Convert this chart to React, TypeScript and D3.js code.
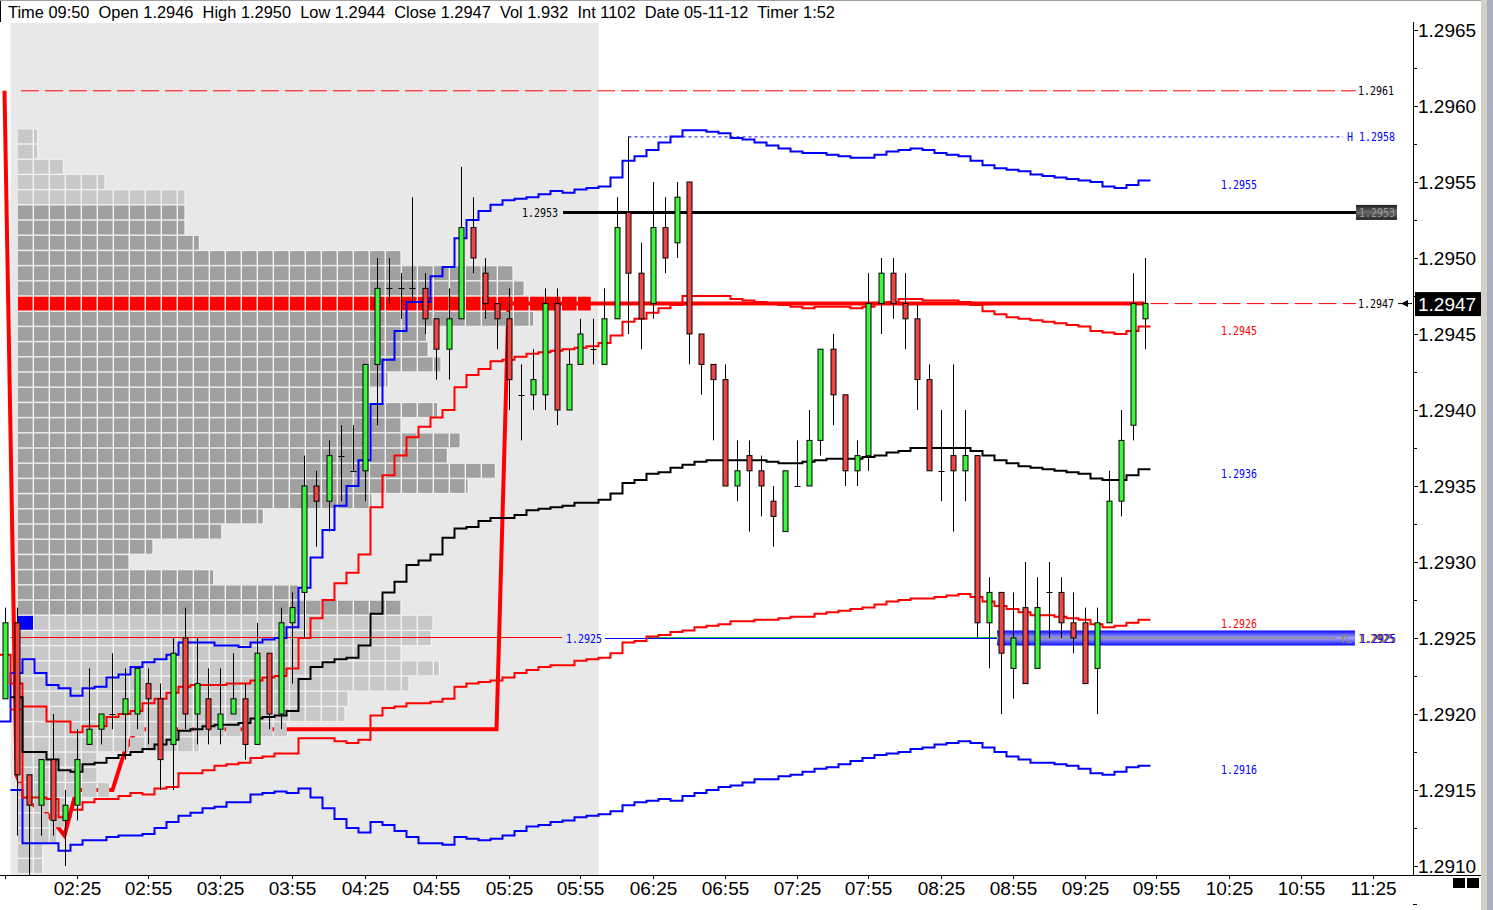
import React from 'react';
import * as d3 from 'd3';

const W = 1493;
const H = 910;

// 5-minute bars from 01:55 to 09:50
const firstBar = '01:55';
const barMinutes = 5;

const opens = [
  1.2921, 1.2926, 1.2916, 1.2914, 1.2917, 1.2913, 1.2914, 1.2918, 1.2919, 1.2920,
  1.2920, 1.2920, 1.2922, 1.2921, 1.2918, 1.2925, 1.2920, 1.2921, 1.2919, 1.2920,
  1.2921, 1.2918, 1.2924, 1.2920, 1.2926, 1.2928, 1.2935, 1.2934, 1.2937, 1.2936,
  1.2936, 1.2943, 1.2948, 1.2948, 1.2948, 1.2948, 1.2946, 1.2944, 1.2946, 1.2952,
  1.2949, 1.2947, 1.2946, 1.2941, 1.2941, 1.2941, 1.2947, 1.2940, 1.2943, 1.2944,
  1.2943, 1.2946, 1.2953, 1.2949, 1.2947, 1.2952, 1.2951, 1.2955, 1.2945, 1.2943,
  1.2942, 1.2935, 1.2937, 1.2936, 1.2934, 1.2932, 1.2935, 1.2935, 1.2938, 1.2944,
  1.2941, 1.2936, 1.2937, 1.2947, 1.2949, 1.2947, 1.2946, 1.2942, 1.2936, 1.2937,
  1.2936, 1.2937, 1.2926, 1.2928, 1.2923, 1.2927, 1.2923, 1.2928, 1.2928, 1.2926,
  1.2926, 1.2923, 1.2926, 1.2934, 1.2939, 1.2946,
];
const highs = [
  1.2927, 1.2927, 1.2916, 1.2917, 1.2920, 1.2915, 1.2919, 1.2923, 1.2920, 1.2924,
  1.2923, 1.2923, 1.2923, 1.2922, 1.2925, 1.2927, 1.2925, 1.2923, 1.2923, 1.2924,
  1.2922, 1.2926, 1.2924, 1.2927, 1.2928, 1.2937, 1.2936, 1.2938, 1.2939, 1.2939,
  1.2943, 1.2950, 1.2950, 1.2949, 1.2954, 1.2949, 1.2946, 1.2948, 1.2956, 1.2954,
  1.2950, 1.2947, 1.2948, 1.2943, 1.2944, 1.2948, 1.2948, 1.2944, 1.2946, 1.2946,
  1.2948, 1.2954, 1.2958, 1.2951, 1.2955, 1.2954, 1.2955, 1.2955, 1.2945, 1.2943,
  1.2943, 1.2938, 1.2938, 1.2937, 1.2935, 1.2936, 1.2938, 1.2940, 1.2944, 1.2945,
  1.2941, 1.2938, 1.2949, 1.2950, 1.2950, 1.2949, 1.2947, 1.2943, 1.2940, 1.2943,
  1.2940, 1.2937, 1.2929, 1.2928, 1.2928, 1.2930, 1.2929, 1.2930, 1.2929, 1.2928,
  1.2927, 1.2927, 1.2936, 1.2940, 1.2949, 1.2950,
];
const lows = [
  1.2921, 1.2912, 1.2909, 1.2912, 1.2912, 1.2910, 1.2913, 1.2918, 1.2918, 1.2919,
  1.2917, 1.2919, 1.2918, 1.2915, 1.2915, 1.2919, 1.2918, 1.2918, 1.2918, 1.2920,
  1.2917, 1.2918, 1.2919, 1.2919, 1.2922, 1.2925, 1.2931, 1.2932, 1.2934, 1.2936,
  1.2934, 1.2939, 1.2947, 1.2946, 1.2947, 1.2945, 1.2942, 1.2942, 1.2946, 1.2949,
  1.2946, 1.2944, 1.2940, 1.2938, 1.2940, 1.2940, 1.2939, 1.2940, 1.2943, 1.2943,
  1.2943, 1.2946, 1.2945, 1.2944, 1.2946, 1.2949, 1.2950, 1.2943, 1.2941, 1.2938,
  1.2935, 1.2934, 1.2932, 1.2933, 1.2931, 1.2932, 1.2935, 1.2935, 1.2937, 1.2939,
  1.2935, 1.2935, 1.2936, 1.2945, 1.2946, 1.2944, 1.2940, 1.2936, 1.2934, 1.2932,
  1.2934, 1.2925, 1.2923, 1.2920, 1.2921, 1.2922, 1.2923, 1.2925, 1.2925, 1.2924,
  1.2922, 1.2920, 1.2926, 1.2933, 1.2938, 1.2944,
];
const closes = [
  1.2926, 1.2916, 1.2914, 1.2917, 1.2913, 1.2914, 1.2917, 1.2919, 1.2920, 1.2920,
  1.2921, 1.2923, 1.2921, 1.2917, 1.2924, 1.2920, 1.2922, 1.2919, 1.2920, 1.2921,
  1.2918, 1.2924, 1.2920, 1.2926, 1.2927, 1.2935, 1.2934, 1.2937, 1.2937, 1.2936,
  1.2943, 1.2948, 1.2948, 1.2948, 1.2948, 1.2946, 1.2944, 1.2946, 1.2952, 1.2950,
  1.2947, 1.2946, 1.2942, 1.2941, 1.2942, 1.2947, 1.2940, 1.2943, 1.2945, 1.2944,
  1.2946, 1.2952, 1.2949, 1.2946, 1.2952, 1.2950, 1.2954, 1.2945, 1.2943, 1.2942,
  1.2935, 1.2936, 1.2936, 1.2935, 1.2933, 1.2936, 1.2935, 1.2938, 1.2944, 1.2941,
  1.2936, 1.2937, 1.2947, 1.2949, 1.2947, 1.2946, 1.2942, 1.2936, 1.2936, 1.2936,
  1.2937, 1.2926, 1.2928, 1.2924, 1.2925, 1.2922, 1.2927, 1.2928, 1.2926, 1.2925,
  1.2922, 1.2926, 1.2934, 1.2938, 1.2947, 1.2947,
];

// VWAP and its deviation bands, one value per bar (bar 0 = prior session)
const upperBlue = [
  1.29195, 1.29227, 1.29236, 1.29227, 1.29219, 1.29217, 1.29212, 1.29217, 1.29218, 1.29224,
  1.29226, 1.29231, 1.29234, 1.29236, 1.29239, 1.29247, 1.29247, 1.29247, 1.29245, 1.29245,
  1.29244, 1.29247, 1.29249, 1.29250, 1.29257, 1.29283, 1.29303, 1.29321, 1.29337, 1.29350,
  1.29367, 1.29404, 1.29433, 1.29452, 1.29471, 1.29471, 1.29488, 1.29494, 1.29513, 1.29525,
  1.29531, 1.29535, 1.29538, 1.29539, 1.29540, 1.29542, 1.29544, 1.29543, 1.29545, 1.29546,
  1.29547, 1.29553, 1.29564, 1.29567, 1.29571, 1.29576, 1.29580, 1.29584, 1.29584, 1.29583,
  1.29582, 1.29579, 1.29578, 1.29576, 1.29574, 1.29572, 1.29570, 1.29569, 1.29569, 1.29568,
  1.29567, 1.29566, 1.29566, 1.29568, 1.29570, 1.29571, 1.29572, 1.29571, 1.29569, 1.29568,
  1.29567, 1.29564, 1.29561, 1.29559, 1.29558, 1.29557, 1.29555, 1.29554, 1.29553, 1.29552,
  1.29551, 1.29550, 1.29547, 1.29546, 1.29548, 1.29551,
];
const upperRed = [
  1.29239, 1.29220, 1.29205, 1.29205, 1.29195, 1.29195, 1.29188, 1.29192, 1.29192, 1.29198,
  1.29200, 1.29202, 1.29207, 1.29210, 1.29214, 1.29218, 1.29219, 1.29219, 1.29219, 1.29220,
  1.29220, 1.29222, 1.29224, 1.29225, 1.29230, 1.29250, 1.29263, 1.29275, 1.29286, 1.29293,
  1.29305, 1.29336, 1.29357, 1.29370, 1.29382, 1.29389, 1.29395, 1.29400, 1.29415, 1.29423,
  1.29427, 1.29432, 1.29433, 1.29435, 1.29437, 1.29438, 1.29439, 1.29440, 1.29441, 1.29442,
  1.29444, 1.29449, 1.29458, 1.29460, 1.29464, 1.29467, 1.29469, 1.29475, 1.29475, 1.29475,
  1.29475, 1.29473, 1.29472, 1.29471, 1.29470, 1.29469, 1.29468, 1.29467, 1.29468, 1.29468,
  1.29468, 1.29467, 1.29468, 1.29470, 1.29471, 1.29473, 1.29473, 1.29472, 1.29472, 1.29472,
  1.29471, 1.29469, 1.29465, 1.29463, 1.29461, 1.29460, 1.29459, 1.29458, 1.29457, 1.29456,
  1.29455, 1.29452, 1.29451, 1.29450, 1.29452, 1.29455,
];
const vwap = [
  null, 1.29211, 1.29175, 1.29175, 1.29170, 1.29163, 1.29162, 1.29167, 1.29168, 1.29171,
  1.29173, 1.29175, 1.29177, 1.29180, 1.29183, 1.29189, 1.29190, 1.29192, 1.29193, 1.29193,
  1.29194, 1.29197, 1.29198, 1.29199, 1.29202, 1.29223, 1.29231, 1.29234, 1.29236, 1.29237,
  1.29245, 1.29266, 1.29280, 1.29287, 1.29298, 1.29301, 1.29305, 1.29316, 1.29322, 1.29323,
  1.29327, 1.29329, 1.29329, 1.29331, 1.29334, 1.29335, 1.29336, 1.29337, 1.29339, 1.29339,
  1.29341, 1.29345, 1.29352, 1.29354, 1.29358, 1.29359, 1.29362, 1.29364, 1.29366, 1.29367,
  1.29367, 1.29367, 1.29367, 1.29367, 1.29366, 1.29365, 1.29365, 1.29366, 1.29367, 1.29368,
  1.29368, 1.29368, 1.29369, 1.29370, 1.29372, 1.29373, 1.29375, 1.29375, 1.29375, 1.29375,
  1.29375, 1.29373, 1.29370, 1.29367, 1.29365, 1.29363, 1.29362, 1.29361, 1.29360, 1.29359,
  1.29358, 1.29355, 1.29354, 1.29354, 1.29357, 1.29361,
];
const lowerRed = [
  null, 1.29203, 1.29145, 1.29145, 1.29144, 1.29132, 1.29137, 1.29142, 1.29144, 1.29144,
  1.29146, 1.29148, 1.29147, 1.29151, 1.29152, 1.29161, 1.29161, 1.29163, 1.29166, 1.29167,
  1.29168, 1.29171, 1.29172, 1.29174, 1.29174, 1.29184, 1.29184, 1.29184, 1.29182, 1.29181,
  1.29183, 1.29199, 1.29204, 1.29205, 1.29207, 1.29207, 1.29208, 1.29210, 1.29218, 1.29220,
  1.29221, 1.29222, 1.29224, 1.29227, 1.29229, 1.29231, 1.29232, 1.29232, 1.29235, 1.29236,
  1.29237, 1.29240, 1.29247, 1.29248, 1.29251, 1.29252, 1.29254, 1.29255, 1.29257, 1.29258,
  1.29259, 1.29261, 1.29261, 1.29262, 1.29262, 1.29263, 1.29264, 1.29264, 1.29266, 1.29267,
  1.29268, 1.29269, 1.29270, 1.29272, 1.29274, 1.29275, 1.29276, 1.29276, 1.29277, 1.29278,
  1.29279, 1.29277, 1.29274, 1.29271, 1.29269, 1.29267, 1.29265, 1.29265, 1.29264, 1.29263,
  1.29262, 1.29259, 1.29257, 1.29258, 1.29260, 1.29262,
];
const lowerBlue = [
  null, 1.29150, 1.29115, 1.29115, 1.29115, 1.29110, 1.29114, 1.29117, 1.29117, 1.29119,
  1.29120, 1.29120, 1.29121, 1.29125, 1.29129, 1.29133, 1.29135, 1.29138, 1.29139, 1.29142,
  1.29142, 1.29147, 1.29148, 1.29149, 1.29148, 1.29151, 1.29145, 1.29138, 1.29131, 1.29125,
  1.29122, 1.29129, 1.29127, 1.29123, 1.29119, 1.29115, 1.29115, 1.29114, 1.29119, 1.29118,
  1.29117, 1.29118, 1.29120, 1.29123, 1.29126, 1.29127, 1.29129, 1.29130, 1.29132, 1.29133,
  1.29134, 1.29136, 1.29140, 1.29142, 1.29143, 1.29144, 1.29143, 1.29146, 1.29148, 1.29150,
  1.29152, 1.29153, 1.29155, 1.29157, 1.29157, 1.29159, 1.29160, 1.29162, 1.29164, 1.29165,
  1.29167, 1.29169, 1.29171, 1.29173, 1.29174, 1.29175, 1.29177, 1.29178, 1.29180, 1.29181,
  1.29182, 1.29181, 1.29178, 1.29175, 1.29172, 1.29170, 1.29168, 1.29168, 1.29167, 1.29166,
  1.29164, 1.29161, 1.29160, 1.29162, 1.29165, 1.29166,
];
// developing point of control
const devPoc = [
  1.2961, 1.2916, 1.2914, 1.2914, 1.2913, 1.2912, 1.2915, 1.2915, 1.2915, 1.2915,
  1.29175, 1.2919, 1.2919, 1.2919, 1.2919, 1.2919, 1.2919, 1.2919, 1.2919, 1.2919,
  1.2919, 1.2919, 1.2919, 1.2919, 1.2919, 1.2919, 1.2919, 1.2919, 1.2919, 1.2919,
  1.2919, 1.2919, 1.2919, 1.2919, 1.2919, 1.2919, 1.2919, 1.2919, 1.2919, 1.2919,
  1.2919, 1.2919, 1.2947, 1.2947, 1.2947, 1.2947, 1.2947, 1.2947, 1.2947, 1.2947,
  1.2947, 1.2947, 1.2947, 1.2947, 1.2947, 1.2947, 1.2947, 1.2947, 1.2947, 1.2947,
  1.2947, 1.2947, 1.2947, 1.2947, 1.2947, 1.2947, 1.2947, 1.2947, 1.2947, 1.2947,
  1.2947, 1.2947, 1.2947, 1.2947, 1.2947, 1.2947, 1.2947, 1.2947, 1.2947, 1.2947,
  1.2947, 1.2947, 1.2947, 1.2947, 1.2947, 1.2947, 1.2947, 1.2947, 1.2947, 1.2947,
  1.2947, 1.2947, 1.2947, 1.2947, 1.2947, 1.2947,
];

// volume profile of the session
const profilePrices = [
  1.2958, 1.2957, 1.2956, 1.2955, 1.2954, 1.2953, 1.2952, 1.2951, 1.2950, 1.2949,
  1.2948, 1.2947, 1.2946, 1.2945, 1.2944, 1.2943, 1.2942, 1.2941, 1.2940, 1.2939,
  1.2938, 1.2937, 1.2936, 1.2935, 1.2934, 1.2933, 1.2932, 1.2931, 1.2930, 1.2929,
  1.2928, 1.2927, 1.2926, 1.2925, 1.2924, 1.2923, 1.2922, 1.2921, 1.2920, 1.2919,
  1.2918, 1.2917, 1.2916, 1.2915, 1.2914, 1.2913, 1.2912, 1.2911, 1.2910,
];
const profileVolume = [
  12, 12, 28, 54, 104, 104, 104, 113, 239, 309,
  316, 358, 322, 255, 256, 264, 231, 216, 262, 239,
  276, 268, 298, 281, 221, 153, 127, 84, 69, 122,
  175, 239, 259, 258, 239, 263, 244, 206, 204, 168,
  113, 49, 49, 57, 30, 30, 24, 15, 15,
];
const pocPrice = 1.2947;
const valueAreaHigh = 1.2953;
const valueAreaLow = 1.2927;

const prevHigh = 1.2961;
const dayHigh = 1.2958;
const levelLine = 1.2953;
const yesterdayLow = 1.2925;
const lastPrice = 1.2947;

const priceTicks = [1.2910, 1.2915, 1.2920, 1.2925, 1.2930, 1.2935, 1.2940, 1.2945, 1.2950, 1.2955, 1.2960, 1.2965];
const timeTicks = ['01:55', '02:25', '02:55', '03:25', '03:55', '04:25', '04:55', '05:25', '05:55', '06:25',
  '06:55', '07:25', '07:55', '08:25', '08:55', '09:25', '09:55', '10:25', '10:55', '11:25'];

const headerText = 'Time 09:50  Open 1.2946  High 1.2950  Low 1.2944  Close 1.2947  Vol 1.932  Int 1102  Date 05-11-12  Timer 1:52';

const parseT = d3.timeParse('%H:%M');
const barTimes = opens.map((_, i) => d3.timeMinute.offset(parseT(firstBar) as Date, barMinutes * i));

const x = d3.scaleTime()
  .domain([parseT('01:55') as Date, parseT('11:25') as Date])
  .range([4.5, 1372.5]);
const y = d3.scaleLinear().domain([1.2910, 1.2965]).range([866, 30]);
const xVol = d3.scaleLinear().domain([0, 10]).range([0, 16]);

const half = (x(barTimes[1]) - x(barTimes[0])) / 2;
const rowH = y(1.2925) - y(1.2926);

const PLOT_TOP = 22;
const PLOT_BOTTOM = 875;
const AXIS_X = 1413;
const PROFILE_X = 18;
const LABEL_FONT = "'DejaVu Sans Mono', monospace";
const AXIS_FONT = "'Liberation Sans', Arial, sans-serif";

// indicator labels show the value cut to 4 decimals
const fmt = (v: number) => (Math.floor(v * 10000 + 1e-6) / 10000).toFixed(4);

type Pt = [number, number | null];

const stepPath = (vals: (number | null)[]) => {
  const pts: Pt[] = vals.map((v, i) => [x(barTimes[i]) - half, v]);
  pts.push([x(barTimes[vals.length - 1]) + half, vals[vals.length - 1]]);
  return d3.line<Pt>()
    .defined(d => d[1] != null)
    .x(d => d[0])
    .y(d => y(d[1] as number))
    .curve(d3.curveStepAfter)(pts) || '';
};

const pocPath = d3.line<number>()
  .x((_, i) => x(barTimes[i]))
  .y(d => y(d))(devPoc) || '';

const SmallLabel: React.FC<{ x: number; y: number; text: string; color: string }> = ({ x: lx, y: ly, text, color }) => (
  <text x={lx} y={ly} fill={color} fontFamily={LABEL_FONT} fontSize={12}
    textLength={text.length * 6} lengthAdjust="spacingAndGlyphs">{text}</text>
);

const App: React.FC = () => {
  const sessionX0 = x(barTimes[1]) - half;
  const sessionX1 = x(barTimes[49]) + half;
  const last = barTimes.length - 1;
  const lastX = x(barTimes[last]) + half;

  const backs: React.ReactNode[] = [];
  const cells: React.ReactNode[] = [];
  profilePrices.forEach((p, r) => {
    const w = xVol(profileVolume[r]);
    const fill = p === pocPrice ? '#ff0000' : (p <= valueAreaHigh && p >= valueAreaLow ? '#a0a0a0' : '#c8c8c8');
    const top = y(p) - rowH / 2;
    backs.push(<rect key={`b${r}`} x={PROFILE_X} y={top} width={w + 1.4} height={rowH} fill="#f3f3f3" />);
    for (let k = 0; k * 16 < w; k++) {
      const cw = Math.min(14.6, w - k * 16);
      cells.push(<rect key={`${r}-${k}`} x={PROFILE_X + k * 16} y={top + 0.7} width={cw} height={rowH - 1.4} fill={fill} />);
    }
  });

  return (
    <div style={{ position: 'absolute', left: 0, top: 0 }}>
      <svg width={W} height={H} viewBox={`0 0 ${W} ${H}`} style={{ display: 'block', background: '#fff' }}>
        <defs>
          <linearGradient id="ylZone" x1="0" y1="0" x2="0" y2="1">
            <stop offset="0" stopColor="#0a0aff" />
            <stop offset="0.25" stopColor="#5a5aff" />
            <stop offset="0.5" stopColor="#a8a8ff" />
            <stop offset="0.75" stopColor="#5a5aff" />
            <stop offset="1" stopColor="#0a0aff" />
          </linearGradient>
          <linearGradient id="tagBox" x1="0" y1="0" x2="0" y2="1">
            <stop offset="0" stopColor="#202020" />
            <stop offset="0.5" stopColor="#6a6a6a" />
            <stop offset="1" stopColor="#202020" />
          </linearGradient>
          <clipPath id="plot">
            <rect x={0} y={PLOT_TOP} width={AXIS_X} height={PLOT_BOTTOM - PLOT_TOP} />
          </clipPath>
        </defs>

        {/* header */}
        <line x1={0} x2={W} y1={0.5} y2={0.5} stroke="#a0a0a0" />
        <line x1={0.5} x2={0.5} y1={1} y2={PLOT_TOP} stroke="#000" />
        <text x={8} y={18} fontFamily={AXIS_FONT} fontSize={17} fill="#000"
          textLength={827} lengthAdjust="spacingAndGlyphs" style={{ whiteSpace: 'pre' }}>{headerText}</text>

        <g clipPath="url(#plot)">
          {/* session shading */}
          <rect x={sessionX0} y={PLOT_TOP + 1} width={sessionX1 - sessionX0} height={PLOT_BOTTOM - PLOT_TOP - 1} fill="#e8e8e8" />

          {/* profile grid backing, then developing POC under the cells */}
          {backs}
          <path d={pocPath} fill="none" stroke="#ff0000" strokeWidth={4} />
          {cells}
          <rect x={PROFILE_X} y={y(1.2926) - rowH / 2 + 0.7} width={15} height={rowH - 1.4} fill="#0000ff" />

          {/* reference levels */}
          <line x1={21} x2={1356} y1={y(prevHigh)} y2={y(prevHigh)} stroke="#ff0000" strokeDasharray="18 6" />
          <line x1={x(barTimes[52])} x2={1343} y1={y(dayHigh) + 0.5} y2={y(dayHigh) + 0.5} stroke="#0000ff" strokeDasharray="3 3" />
          <line x1={x(barTimes[52])} x2={x(barTimes[52])} y1={y(dayHigh)} y2={y(highs[52])} stroke="#000" />
          <line x1={563} x2={1357} y1={y(levelLine)} y2={y(levelLine)} stroke="#000" strokeWidth={3} />
          <line x1={sessionX0} x2={562} y1={y(yesterdayLow) - 0.5} y2={y(yesterdayLow) - 0.5} stroke="#ff0000" />
          <line x1={605} x2={998} y1={y(yesterdayLow) + 0.5} y2={y(yesterdayLow) + 0.5} stroke="#0000ff" />
          <line x1={648} x2={998} y1={y(yesterdayLow) - 0.5} y2={y(yesterdayLow) - 0.5} stroke="#20c040" />
          <rect x={x(barTimes[83]) - 3.5} y={y(yesterdayLow) - 7.5} width={1355 - (x(barTimes[83]) - 3.5)} height={15} fill="url(#ylZone)" />
          <line x1={x(barTimes[83])} x2={1337} y1={y(yesterdayLow)} y2={y(yesterdayLow)} stroke="#8a8a50" />
          <line x1={lastX} x2={1356} y1={y(pocPrice)} y2={y(pocPrice)} stroke="#ff0000" strokeDasharray="18 6" />

          {/* VWAP bands */}
          <path d={stepPath(upperBlue)} fill="none" stroke="#0000ff" strokeWidth={2} />
          <path d={stepPath(lowerBlue)} fill="none" stroke="#0000ff" strokeWidth={2} />
          <path d={stepPath(upperRed)} fill="none" stroke="#ff0000" strokeWidth={2} />
          <path d={stepPath(lowerRed)} fill="none" stroke="#ff0000" strokeWidth={2} />
          <path d={stepPath(vwap)} fill="none" stroke="#000" strokeWidth={2} />

          {/* candles */}
          {barTimes.map((t, i) => {
            const cx = Math.round(x(t)) + 0.5;
            const o = opens[i];
            const c = closes[i];
            const top = y(Math.max(o, c));
            const bot = y(Math.min(o, c));
            return (
              <g key={i}>
                <line x1={cx} x2={cx} y1={y(highs[i])} y2={y(lows[i])} stroke="#000" />
                {o === c ? (
                  <line x1={cx - 3} x2={cx + 3} y1={Math.round(top) + 0.5} y2={Math.round(top) + 0.5} stroke="#000" />
                ) : (
                  <rect x={cx - 2.5} y={top} width={5} height={bot - top}
                    fill={c > o ? '#3df53d' : '#f04545'} stroke="#000" strokeWidth={1} />
                )}
              </g>
            );
          })}
        </g>

        {/* labels */}
        <SmallLabel x={1221} y={y(upperBlue[last]) + 8.5} text={fmt(upperBlue[last])} color="#0000ff" />
        <SmallLabel x={1221} y={y(upperRed[last]) + 8.5} text={fmt(upperRed[last])} color="#ff0000" />
        <SmallLabel x={1221} y={y(vwap[last] as number) + 8.5} text={fmt(vwap[last] as number)} color="#0000ff" />
        <SmallLabel x={1221} y={y(lowerRed[last] as number) + 8.5} text={fmt(lowerRed[last] as number)} color="#ff0000" />
        <SmallLabel x={1221} y={y(lowerBlue[last] as number) + 8.5} text={fmt(lowerBlue[last] as number)} color="#0000ff" />
        <SmallLabel x={1358} y={y(prevHigh) + 4.5} text={prevHigh.toFixed(4)} color="#000" />
        <SmallLabel x={1347} y={y(dayHigh) + 4.5} text={`H ${dayHigh.toFixed(4)}`} color="#0000ff" />
        <SmallLabel x={522} y={y(levelLine) + 4.5} text={levelLine.toFixed(4)} color="#000" />
        <rect x={1356} y={y(levelLine) - 7.5} width={41} height={15} fill="url(#tagBox)" />
        <SmallLabel x={1359} y={y(levelLine) + 4.5} text={levelLine.toFixed(4)} color="#9a9a9a" />
        <SmallLabel x={1358} y={y(pocPrice) + 4.5} text={pocPrice.toFixed(4)} color="#000" />
        <SmallLabel x={566} y={y(yesterdayLow) + 4.5} text={yesterdayLow.toFixed(4)} color="#0000ff" />
        <SmallLabel x={1340} y={y(yesterdayLow) + 4.5} text="YL" color="#8a8a50" />
        <SmallLabel x={1358} y={y(yesterdayLow) + 4.5} text={yesterdayLow.toFixed(4)} color="#00c000" />
        <SmallLabel x={1359} y={y(yesterdayLow) + 4.5} text={yesterdayLow.toFixed(4)} color="#ff0000" />
        <SmallLabel x={1360} y={y(yesterdayLow) + 4.5} text={yesterdayLow.toFixed(4)} color="#0000ff" />

        {/* last price marker */}
        <line x1={1398} x2={1412} y1={y(lastPrice)} y2={y(lastPrice)} stroke="#000" />
        <polygon points={`1401,${y(lastPrice)} 1408,${y(lastPrice) - 3.5} 1408,${y(lastPrice) + 3.5}`} fill="#000" />

        {/* price axis */}
        <line x1={AXIS_X + 0.5} x2={AXIS_X + 0.5} y1={PLOT_TOP} y2={PLOT_BOTTOM} stroke="#000" />
        {priceTicks.map(p => (
          <g key={p}>
            <line x1={AXIS_X} x2={AXIS_X + 5} y1={Math.round(y(p)) + 0.5} y2={Math.round(y(p)) + 0.5} stroke="#000" />
            <line x1={AXIS_X} x2={AXIS_X + 4} y1={Math.round(y(p - 0.00025)) + 0.5} y2={Math.round(y(p - 0.00025)) + 0.5} stroke="#000" />
            <text x={AXIS_X + 5} y={y(p) + 7} fontFamily={AXIS_FONT} fontSize={19} fill="#000">{p.toFixed(4)}</text>
          </g>
        ))}
        <rect x={AXIS_X + 2} y={y(lastPrice) - 11.5} width={66} height={24} fill="#000" />
        <text x={AXIS_X + 5} y={y(lastPrice) + 7} fontFamily={AXIS_FONT} fontSize={19} fill="#fff">{lastPrice.toFixed(4)}</text>

        {/* time axis */}
        <line x1={0} x2={1481} y1={PLOT_BOTTOM + 0.5} y2={PLOT_BOTTOM + 0.5} stroke="#000" />
        {timeTicks.map((s, i) => {
          const tx = Math.round(x(parseT(s) as Date)) + 0.5;
          return (
            <g key={s}>
              <line x1={tx} x2={tx} y1={PLOT_BOTTOM} y2={PLOT_BOTTOM + 4} stroke="#000" />
              {i > 0 && (
                <text x={tx} y={895} textAnchor="middle" fontFamily={AXIS_FONT} fontSize={19} fill="#000">{s}</text>
              )}
            </g>
          );
        })}

        {/* window chrome */}
        <rect x={1453} y={878} width={12} height={10} fill="#000" />
        <rect x={1467} y={878} width={12} height={10} fill="#000" />
        <rect x={1481} y={0} width={6} height={H} fill="#d4d0c8" />
        <rect x={1487} y={0} width={6} height={H} fill="#a9b0bd" />
      </svg>
    </div>
  );
};

export default App;
